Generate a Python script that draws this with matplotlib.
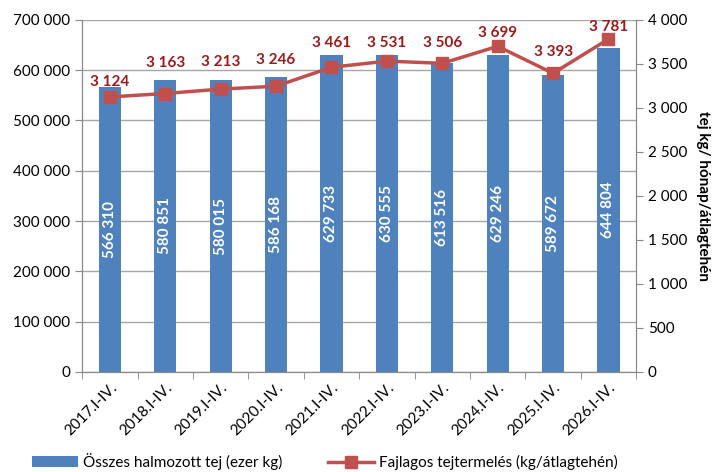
import numpy as np
import matplotlib.pyplot as plt
from matplotlib.ticker import FuncFormatter

# %% Data

years = ["2017.I-IV.", "2018.I-IV.", "2019.I-IV.", "2020.I-IV.", "2021.I-IV.",
         "2022.I-IV.", "2023.I-IV.", "2024.I-IV.", "2025.I-IV.", "2026.I-IV."]
total_milk = [566310, 580851, 580015, 586168, 629733, 630555, 613516, 629246, 589672, 644804]
milk_per_cow = [3124, 3163, 3213, 3246, 3461, 3531, 3506, 3699, 3393, 3781]

# label lift above each marker (pixels), placed by hand like in the original
label_lift = [15, 31, 27, 26, 24, 18, 20, 13, 21, 12]


def space_fmt(v, pos=None):
    return f"{int(round(v)):,}".replace(",", " ")


# %% Plotting

plt.rcParams['font.family'] = ['Lato', 'DejaVu Sans']
plt.rcParams['font.size'] = 11

fig = plt.figure(figsize=(7.14, 4.72), dpi=100)
ax = fig.add_axes([0.115, 0.212, 0.776, 0.746])
ax2 = ax.twinx()

x = np.arange(len(years))
bars = ax.bar(x, total_milk, width=0.4, color="#4F81BD", zorder=2,
              label="Összes halmozott tej (ezer kg)")
for xi, v in zip(x, total_milk):
    ax.text(xi, v / 2, space_fmt(v), rotation=90, ha="center", va="center",
            color="white", fontweight="bold", fontsize=11, zorder=3)

line, = ax2.plot(x, milk_per_cow, color="#C0504D", lw=2.5, marker="s", ms=9,
                 label="Fajlagos tejtermelés (kg/átlagtehén)")
for xi, v, lift in zip(x, milk_per_cow, label_lift):
    ax2.annotate(space_fmt(v), (xi, v), xytext=(0, lift), textcoords="offset pixels",
                 ha="center", va="center", color="#9B1B1B", fontweight="bold", fontsize=11)

ax.set_xlim(-0.5, len(years) - 0.5)
ax.set_ylim(0, 700000)
ax.set_yticks(np.arange(0, 700001, 100000))
ax.yaxis.set_major_formatter(FuncFormatter(space_fmt))
ax2.set_ylim(0, 4000)
ax2.set_yticks(np.arange(0, 4001, 500))
ax2.yaxis.set_major_formatter(FuncFormatter(space_fmt))
ax2.set_ylabel("tej kg/ hónap/átlagtehén", rotation=270, labelpad=16,
               fontweight="bold", fontsize=11)

ax.set_xticks(x)
ax.set_xticklabels(years, rotation=45, ha="right", rotation_mode="anchor")
ax.set_xticks(np.arange(-0.5, len(years)), minor=True)
ax.tick_params(axis="x", which="major", length=0, pad=6)
ax.tick_params(axis="x", which="minor", length=5, color="#888888")
ax.tick_params(axis="y", length=5, color="#888888")
ax2.tick_params(axis="y", length=5, color="#888888")

ax.grid(axis="y", color="#A6A6A6", lw=1, zorder=0)
ax.set_axisbelow(True)
for a in (ax, ax2):
    a.spines["top"].set_visible(False)
    for s in ("left", "right", "bottom"):
        a.spines[s].set_color("#888888")

fig.legend(handles=[bars, line], loc="lower center", ncol=2, frameon=False,
           bbox_to_anchor=(0.455, -0.025), handlelength=3, handletextpad=0.3,
           columnspacing=3, fontsize=11)

plt.savefig("out.png", dpi=100)
